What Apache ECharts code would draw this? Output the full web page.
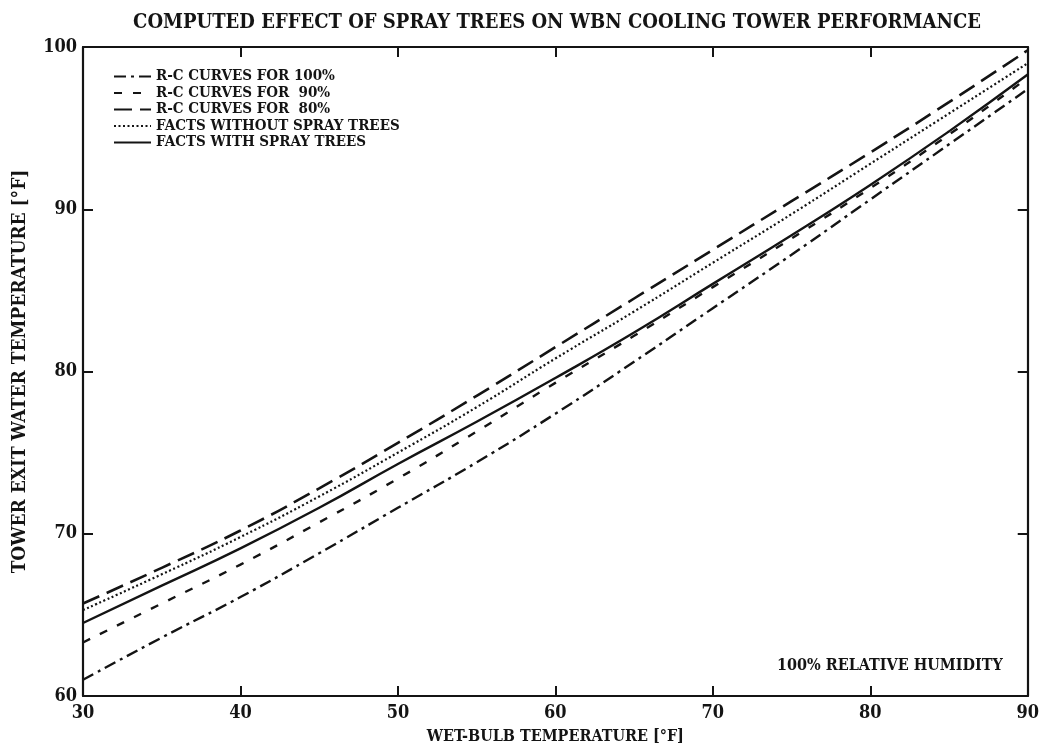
<!DOCTYPE html>
<html>
<head>
<meta charset="utf-8">
<script src="https://cdn.jsdelivr.net/npm/echarts@6/dist/echarts.min.js"></script>
<style>html,body{margin:0;padding:0;background:#fff;}#c{width:1042px;height:750px;}</style>
</head>
<body>
<div id="c"></div>
<script>
// Wet-bulb temperature (°F)
const wetBulb = [30, 35, 40, 45, 50, 55, 60, 65, 70, 75, 80, 85, 90];
// Tower exit water temperature (°F)
const rc100 = [61.0, 63.6, 66.1, 68.8, 71.6, 74.4, 77.4, 80.6, 83.9, 87.2, 90.6, 94.0, 97.4];
const rc90 = [63.3, 65.7, 68.1, 70.7, 73.4, 76.3, 79.3, 82.2, 85.2, 88.2, 91.3, 94.6, 98.1];
const rc80 = [65.7, 67.9, 70.2, 72.8, 75.6, 78.5, 81.5, 84.5, 87.5, 90.5, 93.5, 96.6, 99.8];
const factsWithout = [65.3, 67.5, 69.8, 72.3, 75.0, 77.8, 80.8, 83.7, 86.7, 89.7, 92.8, 95.9, 99.0];
const factsWith = [64.5, 66.8, 69.1, 71.6, 74.3, 76.9, 79.6, 82.4, 85.4, 88.4, 91.5, 94.8, 98.3];
const seriesNames = ['R-C CURVES FOR 100%', 'R-C CURVES FOR  90%', 'R-C CURVES FOR  80%', 'FACTS WITHOUT SPRAY TREES', 'FACTS WITH SPRAY TREES'];

const FONT = '"DejaVu Serif Condensed", "DejaVu Serif", serif';
const INK = '#141414';
const pairs = arr => wetBulb.map((t, i) => [t, arr[i]]);
const styles = [
  { type: [12, 5, 3, 5], width: 2.4 },
  { type: [8, 11], width: 2.4 },
  { type: [18, 8], width: 2.6 },
  { type: [2, 2.5], width: 2.2 },
  { type: 'solid', width: 2.4 }
];
const datasets = [rc100, rc90, rc80, factsWithout, factsWith];

const chart = echarts.init(document.getElementById('c'), null, { renderer: 'canvas' });
const axisCommon = {
  axisLine: { show: true, lineStyle: { color: INK, width: 2.2 } },
  axisTick: { show: true, inside: true, length: 10, lineStyle: { color: INK, width: 2 } },
  splitLine: { show: false }
};
chart.setOption({
  backgroundColor: '#fff',
  animation: false,
  title: {
    text: 'COMPUTED EFFECT OF SPRAY TREES ON WBN COOLING TOWER PERFORMANCE',
    left: 552, textAlign: 'center', top: 8,
    textStyle: { fontFamily: FONT, fontWeight: 'bold', fontSize: 20, color: INK }
  },
  legend: {
    orient: 'vertical', left: 108, top: 64,
    itemWidth: 37, itemHeight: 14, itemGap: 1.5,
    data: seriesNames,
    itemStyle: { opacity: 0 },
    textStyle: { fontFamily: FONT, fontWeight: 'bold', fontSize: 15, color: INK }
  },
  grid: { left: 83, right: 11, top: 47, bottom: 46 },
  xAxis: [
    Object.assign({
      type: 'value', min: 30, max: 90, interval: 10, position: 'bottom',
      name: 'WET-BULB TEMPERATURE [°F]', nameLocation: 'middle', nameGap: 33,
      nameTextStyle: { fontFamily: FONT, fontWeight: 'bold', fontSize: 16, color: INK },
      axisLabel: { fontFamily: FONT, fontWeight: 'bold', fontSize: 18, color: INK, margin: 8 }
    }, axisCommon),
    Object.assign({
      type: 'value', min: 30, max: 90, interval: 10, position: 'top',
      axisLabel: { show: false }
    }, axisCommon)
  ],
  yAxis: [
    Object.assign({
      type: 'value', min: 60, max: 100, interval: 10, position: 'left',
      name: 'TOWER EXIT WATER TEMPERATURE [°F]', nameLocation: 'middle', nameGap: 53,
      nameTextStyle: { fontFamily: FONT, fontWeight: 'bold', fontSize: 19, color: INK },
      axisLabel: { fontFamily: FONT, fontWeight: 'bold', fontSize: 18, color: INK, margin: 6 }
    }, axisCommon),
    Object.assign({
      type: 'value', min: 60, max: 100, interval: 10, position: 'right',
      axisLabel: { show: false }
    }, axisCommon)
  ],
  graphic: [{
    type: 'text', left: 777, top: 658,
    style: { text: '100% RELATIVE HUMIDITY', font: 'bold 16px ' + FONT, fill: INK }
  }],
  series: datasets.map((d, i) => ({
    name: seriesNames[i], type: 'line', xAxisIndex: 0, yAxisIndex: 0,
    data: pairs(d), smooth: true, showSymbol: false, symbol: 'none',
    lineStyle: { color: INK, width: styles[i].width, type: styles[i].type },
    itemStyle: { color: INK }
  }))
});
</script>
</body>
</html>
